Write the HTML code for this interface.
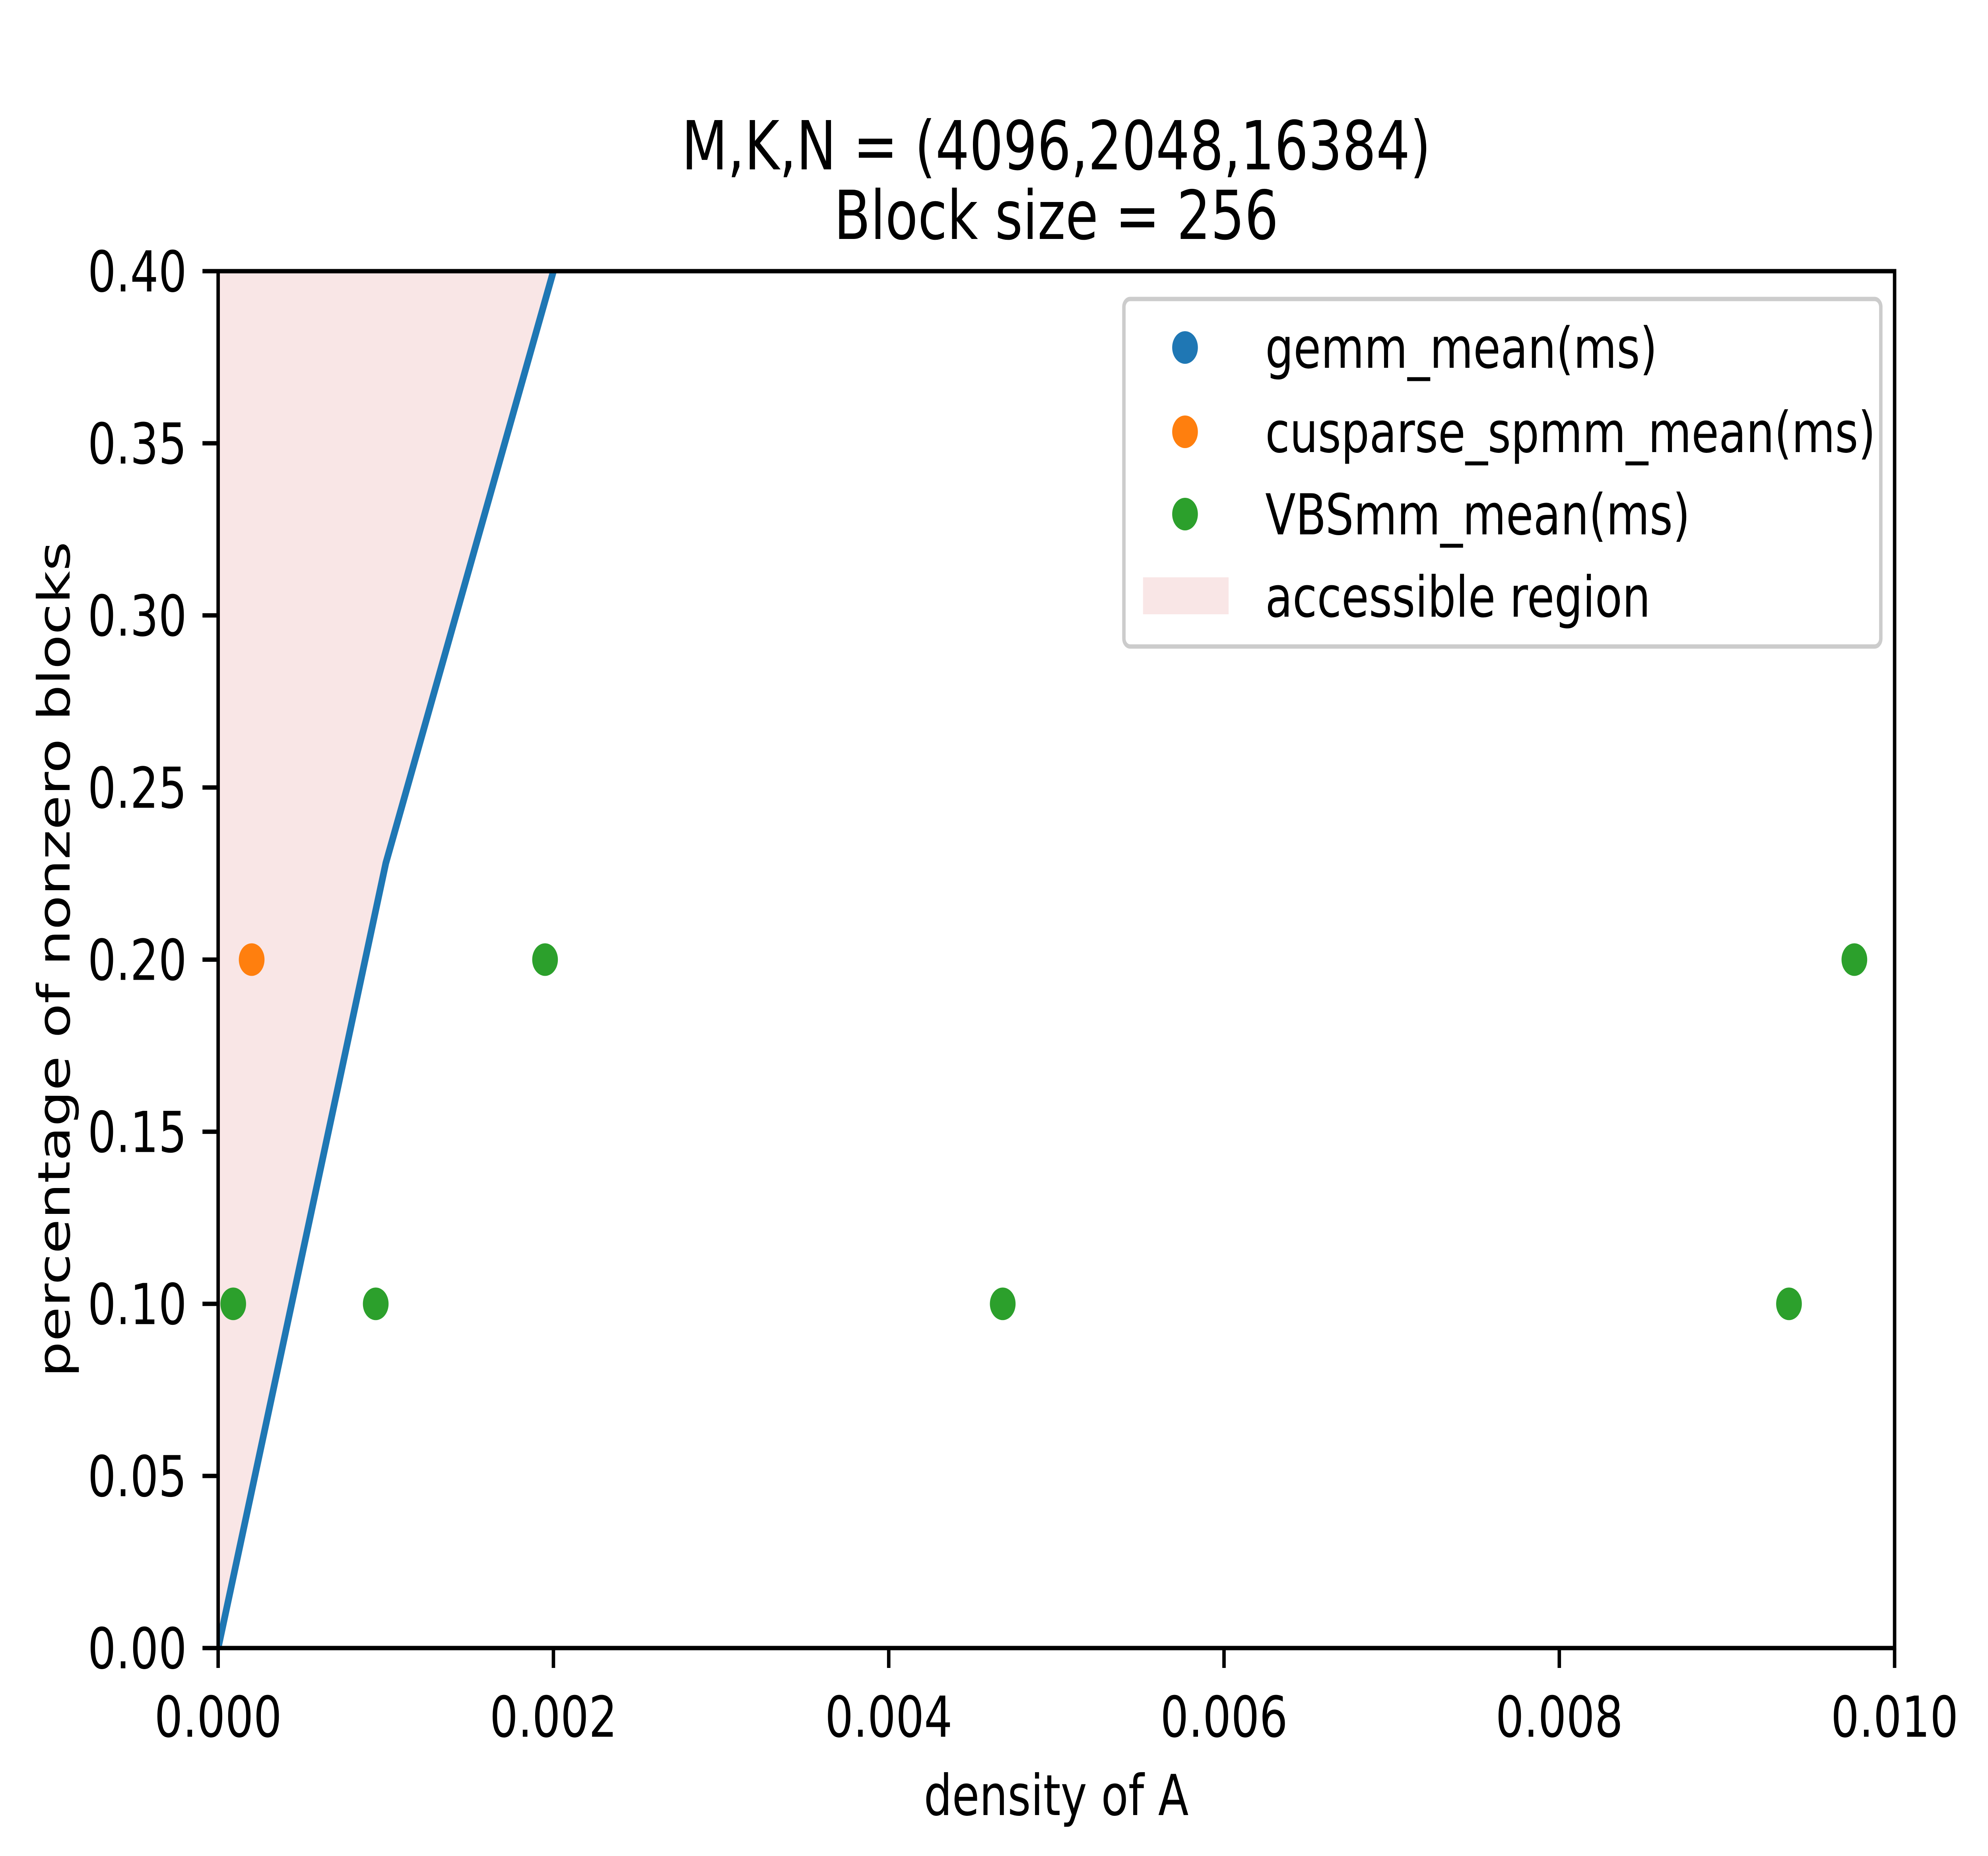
<!DOCTYPE html>
<html><head><meta charset="utf-8"><style>html,body{margin:0;padding:0;background:#fff;overflow:hidden;width:100%;height:100%}svg{display:block;position:absolute;left:0;top:0;width:100vw;height:100vh}text{font-family:"DejaVu Sans","Liberation Sans",sans-serif}</style></head>
<body>
<svg id="chart" xmlns="http://www.w3.org/2000/svg" viewBox="0 0 6343 4668" preserveAspectRatio="none">
<text x="3370" y="426" font-size="170" text-anchor="middle">M,K,N = (4096,2048,16384)</text>
<text x="3370" y="601" font-size="170" text-anchor="middle">Block size = 256</text>
<text x="3370" y="4565" font-size="142" text-anchor="middle">density of A</text>
<text x="222" y="2413" font-size="142" text-anchor="middle" transform="rotate(-90 222 2413)">percentage of nonzero blocks</text>
</svg>
<script>
const xTicks=[0,0.002,0.004,0.006,0.008,0.010];
const xTickLabels=["0.000","0.002","0.004","0.006","0.008","0.010"];
const yTicks=[0,0.05,0.1,0.15,0.2,0.25,0.3,0.35,0.4];
const yTickLabels=["0.00","0.05","0.10","0.15","0.20","0.25","0.30","0.35","0.40"];
const boundX=[0,0.001,0.002,0.003];
const boundY=[0,0.228,0.4,0.572];
const gemmX=[];
const gemmY=[];
const cusparseX=[0.0002];
const cusparseY=[0.2];
const vbsX=[0.00009,0.00094,0.00195,0.00468,0.00937,0.00976];
const vbsY=[0.1,0.1,0.2,0.1,0.1,0.2];

const L=696,R=6045,T=682,B=4145;
const xMin=0,xMax=0.01,yMin=0,yMax=0.4;
const sx=v=>L+(v-xMin)/(xMax-xMin)*(R-L);
const sy=v=>B-(v-yMin)/(yMax-yMin)*(B-T);
const svg=document.getElementById('chart');
const NS='http://www.w3.org/2000/svg';
function mk(tag,attrs,parent){const e=document.createElementNS(NS,tag);for(const k in attrs)e.setAttribute(k,attrs[k]);(parent||svg).appendChild(e);return e;}

const defs=mk('defs',{});
const cp=mk('clipPath',{id:'clip'},defs);
mk('rect',{x:L,y:T,width:R-L,height:B-T},cp);
const plot=mk('g',{'clip-path':'url(#clip)'});



let pts=[];
for(let i=0;i<boundX.length;i++)pts.push(sx(boundX[i])+','+sy(boundY[i]));
pts.push(sx(0)+','+sy(boundY[boundY.length-1]));
const fill=mk('polygon',{points:pts.join(' '),fill:'#f9e6e6'},plot);


const line=mk('polyline',{points:pts.slice(0,boundX.length).join(' '),fill:'none',stroke:'#1f77b4','stroke-width':21},plot);



function scatter(xs,ys,color,name){for(let i=0;i<xs.length;i++){const c=mk('circle',{cx:sx(xs[i]),cy:sy(ys[i]),r:41,fill:color},plot);

}}
scatter(gemmX,gemmY,'#1f77b4','gemm');
scatter(cusparseX,cusparseY,'#ff7f0e','cusparse');
scatter(vbsX,vbsY,'#2ca02c','vbsmm');

const frame=mk('rect',{x:L,y:T,width:R-L,height:B-T,fill:'none',stroke:'#000','stroke-width':11});



xTicks.forEach((v,i)=>{const x=sx(v);
const t=mk('line',{x1:x,y1:B,x2:x,y2:B+50,stroke:'#000','stroke-width':11});


const tx=mk('text',{x:x,y:4368,'font-size':142,'text-anchor':'middle'});tx.textContent=xTickLabels[i];

});
yTicks.forEach((v,i)=>{const y=sy(v);
const t=mk('line',{x1:L-50,y1:y,x2:L,y2:y,stroke:'#000','stroke-width':11});


const tx=mk('text',{x:596,y:y+51,'font-size':142,'text-anchor':'end'});tx.textContent=yTickLabels[i];

});

const lg=mk('g',{});


const box=mk('rect',{x:3586,y:752,width:2415,height:874,rx:20,fill:'#fff','fill-opacity':0.8,stroke:'#cccccc','stroke-width':11},lg);


const entries=[["gemm_mean(ms)","#1f77b4",874],["cusparse_spmm_mean(ms)","#ff7f0e",1086],["VBSmm_mean(ms)","#2ca02c",1293]];
entries.forEach(e=>{
const c=mk('circle',{cx:3781,cy:e[2],r:41,fill:e[1]},lg);


const t=mk('text',{x:4037,y:e[2]+51,'font-size':142},lg);t.textContent=e[0];

});
const patch=mk('rect',{x:3647,y:1452,width:273,height:93,fill:'#f9e6e6'},lg);


const at=mk('text',{x:4037,y:1551,'font-size':142},lg);at.textContent='accessible region';


</script>
</body></html>
